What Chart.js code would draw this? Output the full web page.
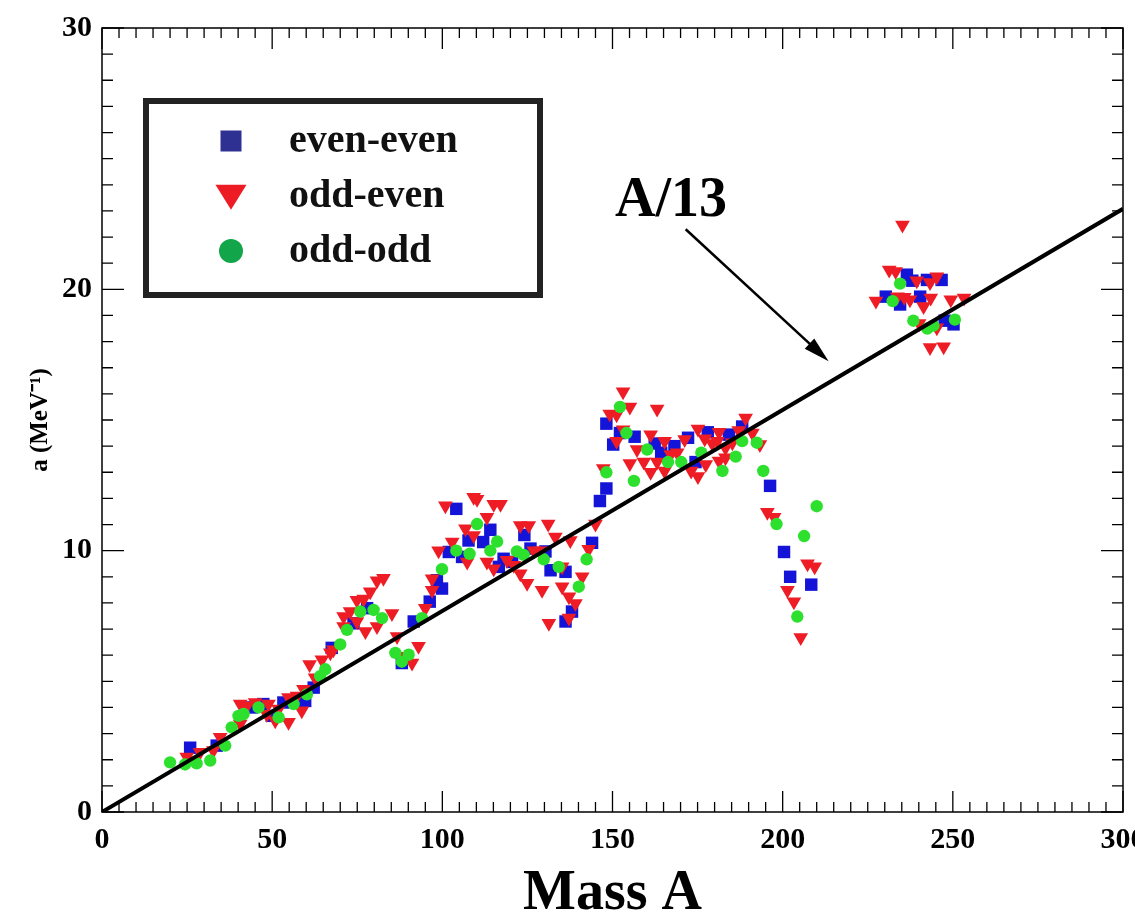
<!DOCTYPE html>
<html>
<head>
<meta charset="utf-8">
<title>Level density parameter vs mass</title>
<script src="https://cdn.jsdelivr.net/npm/chart.js@4.4.1/dist/chart.umd.min.js"></script>
<style>
    html, body { margin: 0; padding: 0; background: #fff; overflow: hidden; }
    #wrap { width: 1160px; height: 920px; }
</style>
</head>
<body>
<div id="wrap"><canvas id="chart" width="1160" height="920"></canvas></div>
<script>
// values: mass A vs level density parameter a (MeV^-1)
const seriesNames = ['even-even', 'odd-even', 'odd-odd'];

const eeMass = [25.9, 33.7, 44, 47.4, 49.9, 53.3, 59.7, 62.2, 67.5, 73.9, 77.9, 88.1, 91.6, 96.3, 98.4, 99.9, 101.9, 104.1, 105.8, 107.7,
    112, 114.1, 116.6, 118, 120.5, 124.1, 125.9, 130.3, 131.8, 136.2, 138.1, 136.2, 144, 146.3, 148.2, 148.2, 150.2, 152.2, 156.5, 162.4,
    164.3, 168.2, 172.2, 174.4, 178, 184.2, 188.1, 196.3, 200.4, 202.2, 208.4, 230.3, 234.5, 236.5, 238.1, 240.4, 242.4, 246.7, 247.6, 250.2];
const eeA = [2.46, 2.54, 4.0, 4.13, 3.68, 4.19, 4.25, 4.76, 6.28, 7.22, 7.8, 5.7, 7.29, 8.05, 8.87, 8.55, 9.95, 11.6, 9.76, 10.39,
    10.33, 10.8, 9.38, 9.69, 9.57, 10.6, 10.08, 9.97, 9.25, 9.19, 7.67, 7.29, 10.3, 11.9, 12.38, 14.86, 14.06, 14.5, 14.36, 14.1,
    13.75, 14.0, 14.32, 13.39, 14.53, 14.44, 14.75, 12.48, 9.95, 9.0, 8.7, 19.72, 19.42, 20.56, 20.33, 19.72, 20.36, 20.36, 18.8, 18.66];

const oeMass = [24.9, 28.8, 32.7, 34.7, 40.6, 42.6, 45, 48.9, 40.6, 48.4, 50.9, 51.9, 54.8, 54.8, 57.3, 58.7, 59.2, 61, 62.6, 64.6,
    67.1, 68, 71, 72.9, 74.9, 76.9, 74.9, 71, 77.4, 78.8, 80.8, 82.7, 80.8, 85.2, 86.7, 88.6, 91.1, 93, 95, 97,
    97, 98.9, 100.9, 102.9, 106.8, 107.3, 109.2, 109.2, 110.2, 113.1, 113.1, 115.1, 117.1, 115.1, 119, 121, 122.9, 124.9, 122.9, 125.4,
    126.9, 128.8, 129.3, 131.1, 133.2, 135.2, 131.3, 135.2, 137.2, 139.1, 137.2, 141.1, 137.6, 143, 145, 147.3, 149.2, 151.2, 153.1, 155.1,
    151.2, 153.1, 155.1, 157.2, 159.2, 161.2, 161.2, 163.1, 163.1, 165.3, 165.3, 167.1, 169, 171.2, 173.1, 175.1, 175.1, 177.1, 177.4, 179.3,
    180.8, 181.3, 181.3, 183.2, 183.2, 185.2, 187.1, 189.1, 191.1, 193.3, 195.5, 197.5, 201.4, 203.3, 205.3, 207.3, 209.4, 227.4, 231.3, 233.2,
    235.2, 233.7, 235.7, 237.4, 239.4, 241.4, 243.3, 243.5, 245.3, 249.4, 253.3, 240.1, 245.3, 243.3, 247.3];
const oeA = [2.1, 2.29, 2.35, 2.86, 4.13, 4.06, 4.19, 4.13, 3.37, 3.74, 3.49, 3.94, 3.43, 4.38, 4.44, 3.87, 4.7, 5.64, 5.14, 5.83,
    6.09, 6.21, 7.48, 7.67, 8.1, 8.15, 7.29, 7.1, 6.91, 8.43, 8.85, 8.94, 7.1, 7.6, 6.72, 5.96, 5.7, 6.34, 7.8, 8.49,
    8.93, 10.0, 11.72, 10.33, 10.84, 9.57, 10.58, 12.04, 11.97, 11.28, 9.57, 11.78, 11.78, 9.31, 9.63, 9.44, 9.12, 8.75, 10.96, 10.96,
    10.0, 10.0, 8.49, 11.02, 10.52, 9.38, 7.22, 8.62, 8.24, 7.98, 7.42, 9.0, 10.39, 10.05, 11.02, 13.14, 15.23, 15.2, 16.08, 15.5,
    14.19, 14.63, 13.34, 13.87, 13.39, 13.0, 14.44, 15.42, 13.39, 14.19, 13.05, 13.68, 13.75, 14.25, 13.05, 14.66, 12.84, 14.28, 13.3, 14.1,
    14.19, 14.53, 13.43, 13.56, 13.94, 14.13, 14.6, 15.08, 14.5, 14.06, 11.47, 11.28, 8.49, 8.05, 6.68, 9.5, 9.38, 19.55, 20.74, 20.68,
    22.46, 19.72, 19.7, 19.6, 20.33, 19.34, 20.26, 19.67, 20.48, 19.6, 19.67, 18.69, 18.53, 17.77, 17.8];

const ooMass = [20, 24.4, 27.8, 31.8, 36.2, 38.1, 40.1, 41.6, 46, 51.9, 56.3, 60.2, 64.1, 65.6, 70, 72, 75.9, 79.8, 82.3, 86.2,
    88.1, 90.1, 94, 99.9, 104.1, 108, 110.2, 114.1, 116.1, 121.9, 123.9, 129.8, 134.2, 140.1, 142.4, 148.2, 152.2, 154.1, 156.3, 160.2,
    166.3, 170.2, 176.1, 182.3, 186.2, 188.1, 192.4, 194.3, 198.2, 204.3, 206.3, 210, 232.3, 234.5, 238.4, 242.5, 244.3, 250.6];
const ooA = [1.9, 1.82, 1.86, 1.97, 2.54, 3.24, 3.68, 3.75, 4.0, 3.62, 4.13, 4.5, 5.2, 5.46, 6.41, 6.97, 7.67, 7.73, 7.42, 6.09,
    5.75, 6.02, 7.42, 9.29, 10.0, 9.88, 11.02, 10.0, 10.35, 9.97, 9.84, 9.67, 9.38, 8.62, 9.67, 13.0, 15.5, 14.5, 12.67, 13.87,
    13.39, 13.39, 13.75, 13.05, 13.6, 14.19, 14.13, 13.05, 11.02, 7.48, 10.56, 11.7, 19.55, 20.22, 18.8, 18.5, 18.61, 18.84];

// reference line A/13, end points
const lineMass = [0, 300];
const lineA = [0, 23.08];
const lineLabel = 'A/13';

const xTicks = [0, 50, 100, 150, 200, 250, 300];
const yTicks = [0, 10, 20, 30];

const SERIF = "'Liberation Serif', 'Times New Roman', serif";
const pts = (xs, ys) => xs.map((x, i) => ({ x, y: ys[i] }));

// marker colours on the plot and (darker) in the legend box
const markerColors = ['#1414d8', '#ee1c24', '#2ee02e'];
const legendColors = ['#2e3192', '#ed1c24', '#12a54a'];

function drawMarker(ctx, kind, x, y, s, color) {
    ctx.fillStyle = color;
    ctx.beginPath();
    if (kind === 0) {
        ctx.rect(x - s / 2, y - s / 2, s, s);
    } else if (kind === 1) {
        ctx.moveTo(x - s * 0.62, y - s * 0.45);
        ctx.lineTo(x + s * 0.62, y - s * 0.45);
        ctx.lineTo(x, y + s * 0.55);
        ctx.closePath();
    } else {
        ctx.arc(x, y, s / 2, 0, Math.PI * 2);
    }
    ctx.fill();
}

const framePlugin = {
    id: 'frame',
    afterDraw(chart) {
        const { ctx, chartArea: a, scales: { x, y } } = chart;
        ctx.save();
        ctx.strokeStyle = '#000';
        ctx.lineWidth = 1.5;
        ctx.strokeRect(a.left, a.top, a.right - a.left, a.bottom - a.top);

        // inward ticks on all four sides
        ctx.lineWidth = 1.3;
        ctx.beginPath();
        for (let v = 0; v <= 300; v += 5) {
            const px = x.getPixelForValue(v);
            const len = v % 50 === 0 ? 21 : 10;
            ctx.moveTo(px, a.bottom); ctx.lineTo(px, a.bottom - len);
            ctx.moveTo(px, a.top); ctx.lineTo(px, a.top + len);
        }
        for (let v = 0; v <= 30; v += 1) {
            const py = y.getPixelForValue(v);
            const len = v % 10 === 0 ? 22 : 11;
            ctx.moveTo(a.left, py); ctx.lineTo(a.left + len, py);
            ctx.moveTo(a.right, py); ctx.lineTo(a.right - len, py);
        }
        ctx.stroke();

        // A/13 label with arrow pointing at the line
        ctx.fillStyle = '#000';
        ctx.font = 'bold 56px ' + SERIF;
        ctx.textAlign = 'center';
        ctx.textBaseline = 'alphabetic';
        ctx.fillText(lineLabel, x.getPixelForValue(167.2), y.getPixelForValue(22.8));

        const x0 = x.getPixelForValue(171.5), y0 = y.getPixelForValue(22.3);
        const x1 = x.getPixelForValue(213.5), y1 = y.getPixelForValue(17.25);
        const ang = Math.atan2(y1 - y0, x1 - x0);
        const head = 26, half = 7;
        ctx.lineWidth = 2.5;
        ctx.beginPath();
        ctx.moveTo(x0, y0);
        ctx.lineTo(x1 - Math.cos(ang) * head * 0.8, y1 - Math.sin(ang) * head * 0.8);
        ctx.stroke();
        ctx.beginPath();
        ctx.moveTo(x1, y1);
        ctx.lineTo(x1 - Math.cos(ang) * head - Math.sin(ang) * half, y1 - Math.sin(ang) * head + Math.cos(ang) * half);
        ctx.lineTo(x1 - Math.cos(ang) * head + Math.sin(ang) * half, y1 - Math.sin(ang) * head - Math.cos(ang) * half);
        ctx.closePath();
        ctx.fill();

        // legend box
        ctx.lineWidth = 6;
        ctx.strokeStyle = '#222';
        ctx.strokeRect(146, 101, 394, 194);
        ctx.font = 'bold 40px ' + SERIF;
        ctx.textAlign = 'left';
        const rows = [141, 196, 251];
        const sizes = [21, 25, 24];
        seriesNames.forEach((name, i) => {
            drawMarker(ctx, i, 231, rows[i], sizes[i], legendColors[i]);
            ctx.fillStyle = '#111';
            ctx.textBaseline = 'middle';
            ctx.fillText(name, 289, rows[i] + 1);
        });
        ctx.restore();
    }
};

const tickFont = { family: SERIF, size: 30, weight: 'bold' };

new Chart(document.getElementById('chart'), {
    type: 'scatter',
    data: {
        datasets: [
            {
                label: lineLabel, type: 'line', data: pts(lineMass, lineA),
                borderColor: '#000', borderWidth: 4, pointRadius: 0, fill: false, order: 0
            },
            {
                label: seriesNames[2], data: pts(ooMass, ooA), pointStyle: 'circle',
                backgroundColor: markerColors[2], borderWidth: 0, pointRadius: 6.2, order: 1
            },
            {
                label: seriesNames[1], data: pts(oeMass, oeA), pointStyle: 'triangle', rotation: 180,
                backgroundColor: markerColors[1], borderWidth: 0, pointRadius: 8.5, order: 2
            },
            {
                label: seriesNames[0], data: pts(eeMass, eeA), pointStyle: 'rect',
                backgroundColor: markerColors[0], borderWidth: 0, pointRadius: 8.8, order: 3
            }
        ]
    },
    options: {
        responsive: false,
        animation: false,
        layout: { padding: { top: 22, right: 37, left: 0, bottom: 0 } },
        plugins: { legend: { display: false }, tooltip: { enabled: false } },
        scales: {
            x: {
                type: 'linear', min: 0, max: 300,
                afterBuildTicks: s => { s.ticks = xTicks.map(v => ({ value: v })); },
                ticks: { font: tickFont, color: '#000', padding: 10, maxRotation: 0 },
                grid: { display: false, drawTicks: false },
                border: { display: false },
                title: {
                    display: true, text: 'Mass A', color: '#000',
                    font: { family: SERIF, size: 56, weight: 'bold', lineHeight: 0.9 },
                    padding: { top: 0, bottom: 0 }
                },
                afterFit: s => { s.height = 108; }
            },
            y: {
                type: 'linear', min: 0, max: 30,
                afterBuildTicks: s => { s.ticks = yTicks.map(v => ({ value: v })); },
                ticks: { font: tickFont, color: '#000', padding: 10 },
                grid: { display: false, drawTicks: false },
                border: { display: false },
                title: {
                    display: true, text: 'a (MeV⁻¹)', color: '#000',
                    font: { family: SERIF, size: 25, weight: 'bold', lineHeight: 1 },
                    padding: { top: 28, bottom: 0 }
                },
                afterFit: s => { s.width = 102; }
            }
        }
    },
    plugins: [framePlugin]
});
</script>
</body>
</html>
